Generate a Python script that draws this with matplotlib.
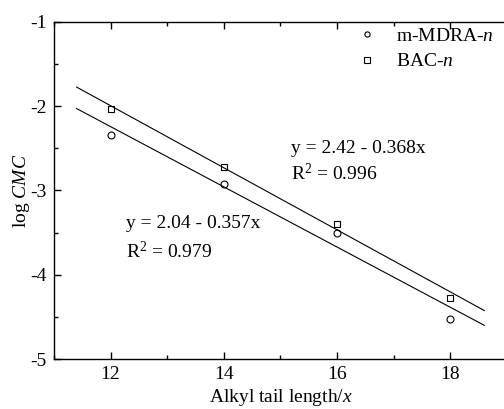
import numpy as np
import matplotlib
matplotlib.use("Agg")
import matplotlib.pyplot as plt
from matplotlib.ticker import MultipleLocator

# --- 字型設定 ---
plt.rcParams['font.family'] = ['Liberation Serif', 'DejaVu Serif']
plt.rcParams['mathtext.fontset'] = 'custom'
plt.rcParams['mathtext.rm'] = 'Liberation Serif'
plt.rcParams['mathtext.it'] = 'Liberation Serif:italic'
plt.rcParams['axes.unicode_minus'] = False

# --- 資料 ---
tail_len = [12, 14, 16, 18]
log_cmc_mdra = [-2.34, -2.92, -3.51, -4.52]
log_cmc_bac = [-2.04, -2.72, -3.40, -4.27]

# 擬合直線 (截距, 斜率) 與繪製範圍
fit_mdra = (2.04, -0.357)
fit_bac = (2.42, -0.368)
fit_range = [11.4, 18.6]

FS = 14

fig = plt.figure(figsize=(5.04, 4.09), dpi=100)
ax = fig.add_axes([0.107, 0.122, 0.899, 0.825])

ax.plot(tail_len, log_cmc_mdra, 'o', ms=5, mfc='white', mec='black', mew=0.8,
        label=r'm-MDRA-$\it{n}$')
ax.plot(tail_len, log_cmc_bac, 's', ms=5, mfc='white', mec='black', mew=0.8,
        label=r'BAC-$\it{n}$')

xf = np.array(fit_range)
ax.plot(xf, fit_mdra[0] + fit_mdra[1] * xf, color='black', lw=0.8)
ax.plot(xf, fit_bac[0] + fit_bac[1] * xf, color='black', lw=0.8)

ax.text(15.19, -2.50, 'y = 2.42 - 0.368x', fontsize=FS, va='center', ha='left')
ax.text(15.19, -2.80, r'R$^2$ = 0.996', fontsize=FS, va='center', ha='left')
ax.text(12.28, -3.39, 'y = 2.04 - 0.357x', fontsize=FS, va='center', ha='left')
ax.text(12.28, -3.73, r'R$^2$ = 0.979', fontsize=FS, va='center', ha='left')

ax.set_xlim(11, 19)
ax.set_ylim(-5, -1)
ax.xaxis.set_major_locator(MultipleLocator(2))
ax.xaxis.set_minor_locator(MultipleLocator(1))
ax.yaxis.set_major_locator(MultipleLocator(1))
ax.yaxis.set_minor_locator(MultipleLocator(0.5))
ax.tick_params(which='both', direction='in', top=True, right=False, labelsize=FS, width=1.0)
ax.tick_params(which='major', length=5, pad=5)
ax.tick_params(which='minor', length=3)
for s in ax.spines.values():
    s.set_linewidth(1.0)

ax.set_xlabel(r'Alkyl tail length/$\it{x}$', fontsize=FS, labelpad=3)
ax.set_ylabel(r'log $\it{CMC}$', fontsize=FS, labelpad=-1)

leg = ax.legend(loc='upper left', bbox_to_anchor=(0.626, 1.035), frameon=False,
                fontsize=FS, markerscale=0.75, handlelength=1.2, handletextpad=0.9,
                labelspacing=0.4)

fig.savefig('out.png', dpi=100)
